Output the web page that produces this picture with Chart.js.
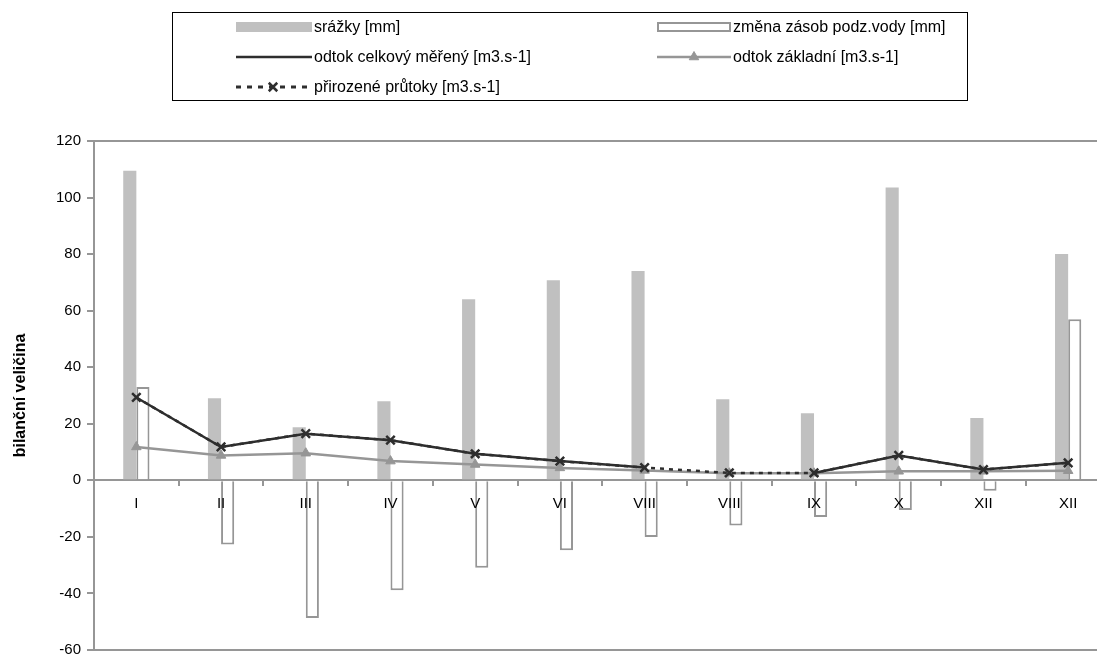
<!DOCTYPE html>
<html>
<head>
<meta charset="utf-8">
<script src="https://cdn.jsdelivr.net/npm/chart.js@4"></script>
<style>
  html, body { margin: 0; padding: 0; background: #fff; overflow: hidden; }
  #bilanceChart { display: block; }
</style>
</head>
<body>
<canvas id="bilanceChart" width="1119" height="665"></canvas>
<script>
// months as printed on the original axis (typos kept)
const months = ["I","II","III","IV","V","VI","VIII","VIII","IX","X","XII","XII"];

const srazky = [109.5, 29, 18.8, 28, 64, 70.8, 74, 28.7, 23.7, 103.6, 22, 80];
const zmenaZasob = [33, -22.7, -48.7, -38.9, -30.9, -24.7, -20, -16, -13, -10.5, -3.7, 57];
const odtokCelkovy = [29.3, 11.8, 16.5, 14.2, 9.4, 6.8, 4.5, null, 2.6, 8.8, 3.8, 6.2];
const odtokZakladni = [11.8, 8.8, 9.6, 6.8, 5.6, 4.4, 3.5, 2.5, 2.5, 3.2, 3.2, 3.4];
const prirozenePrutoky = [29.3, 11.8, 16.5, 14.2, 9.4, 6.8, 4.5, 2.6, 2.6, 8.8, 3.8, 6.2];

const yTicks = [-60, -40, -20, 0, 20, 40, 60, 80, 100, 120];

const GREY_BAR = "#C0C0C0";
const GREY_LINE = "#969696";
const DARK = "#2E2E2E";
const FONT = "'Liberation Sans', Arial, sans-serif";

// legend drawn in a box, two columns like the original
const boxLegend = {
  id: "boxLegend",
  afterDraw(chart){
    const c = chart.ctx;
    const H = Chart.helpers;
    c.save();
    c.strokeStyle = "#000";
    c.lineWidth = 1;
    c.strokeRect(172.5, 12.5, 795, 88);

    c.font = "16px " + FONT;
    c.textBaseline = "middle";

    const rows = [27, 57, 87];
    const col1 = [236, 312], col2 = [657, 731];

    // srážky
    c.fillStyle = GREY_BAR;
    c.fillRect(col1[0], rows[0] - 5, col1[1] - col1[0], 10);
    // změna zásob
    c.strokeStyle = GREY_LINE;
    c.lineWidth = 2;
    c.strokeRect(col2[0] + 1, rows[0] - 4, col2[1] - col2[0] - 2, 8);

    // odtok celkový
    c.strokeStyle = DARK;
    c.lineWidth = 2.5;
    c.beginPath(); c.moveTo(col1[0], rows[1]); c.lineTo(col1[1], rows[1]); c.stroke();

    // odtok základní
    c.strokeStyle = GREY_LINE;
    c.beginPath(); c.moveTo(col2[0], rows[1]); c.lineTo(col2[1], rows[1]); c.stroke();
    c.fillStyle = GREY_LINE;
    c.lineWidth = 1;
    H.drawPoint(c, {pointStyle: "triangle", radius: 5.5, rotation: 0, borderWidth: 1}, (col2[0] + col2[1]) / 2, rows[1]);

    // přirozené průtoky
    c.strokeStyle = DARK;
    c.lineWidth = 3;
    c.setLineDash([5, 6]);
    c.beginPath(); c.moveTo(col1[0], rows[2]); c.lineTo(col1[1], rows[2]); c.stroke();
    c.setLineDash([]);
    c.lineWidth = 2.5;
    H.drawPoint(c, {pointStyle: "crossRot", radius: 6, rotation: 0, borderWidth: 2.5}, 273, rows[2]);

    c.fillStyle = "#000";
    c.fillText("srážky [mm]", col1[1] + 2, rows[0] + 1);
    c.fillText("změna zásob podz.vody [mm]", col2[1] + 2, rows[0] + 1);
    c.fillText("odtok celkový měřený [m3.s-1]", col1[1] + 2, rows[1] + 1);
    c.fillText("odtok základní [m3.s-1]", col2[1] + 2, rows[1] + 1);
    c.fillText("přirozené průtoky [m3.s-1]", col1[1] + 2, rows[2] + 1);
    c.restore();
  }
};

// month labels go on top of the bars, as in the original
const monthLabels = {
  id: "monthLabels",
  afterDatasetsDraw(chart){
    const c = chart.ctx;
    const xs = chart.scales.x;
    const y0 = chart.scales.y.getPixelForValue(0);
    c.save();
    c.font = "15px " + FONT;
    c.fillStyle = "#000";
    c.textAlign = "center";
    c.textBaseline = "middle";
    months.forEach((m, i) => c.fillText(m, xs.getPixelForValue(i), y0 + 24));
    c.restore();
  }
};

const ctx = document.getElementById("bilanceChart");

const bilanceChart = new Chart(ctx,{
    type:"bar",
    data:{
        labels: months,
        datasets:[
            {
                type:"line",
                label:"přirozené průtoky [m3.s-1]",
                data: prirozenePrutoky,
                borderColor: DARK,
                borderWidth: 2.5,
                borderDash: [4, 5],
                pointStyle: "crossRot",
                pointRadius: 6,
                pointBorderWidth: 2.5,
                pointBorderColor: DARK,
                pointBackgroundColor: DARK,
                fill: false,
                tension: 0,
                order: 0
            },
            {
                type:"line",
                label:"odtok celkový měřený [m3.s-1]",
                data: odtokCelkovy,
                borderColor: DARK,
                borderWidth: 2.5,
                pointRadius: 0,
                spanGaps: false,
                fill: false,
                tension: 0,
                order: 1
            },
            {
                type:"line",
                label:"odtok základní [m3.s-1]",
                data: odtokZakladni,
                borderColor: GREY_LINE,
                borderWidth: 2.5,
                pointStyle: "triangle",
                pointRadius: 5.5,
                pointBorderWidth: 1,
                pointBorderColor: GREY_LINE,
                pointBackgroundColor: GREY_LINE,
                fill: false,
                tension: 0,
                order: 2
            },
            {
                label:"srážky [mm]",
                data: srazky,
                backgroundColor: GREY_BAR,
                borderWidth: 0,
                categoryPercentage: 0.31,
                barPercentage: 1,
                order: 3
            },
            {
                label:"změna zásob podz.vody [mm]",
                data: zmenaZasob,
                backgroundColor: "#fff",
                borderColor: GREY_LINE,
                borderWidth: 2,
                categoryPercentage: 0.31,
                barPercentage: 1,
                order: 3
            }
        ]
    },
    options:{
        responsive:false,
        animation:false,
        devicePixelRatio:1,
        layout:{ padding:{ top:141, bottom:0, left:0, right:2 } },
        plugins:{
            legend:{ display:false },
            tooltip:{ enabled:false }
        },
        scales:{
            x:{
                position:{ y:0 },
                grid:{
                    offset:true,
                    drawOnChartArea:false,
                    tickLength:5,
                    tickColor:GREY_LINE,
                    lineWidth:2
                },
                border:{ color:GREY_LINE, width:2 },
                ticks:{ display:false }
            },
            y:{
                min:-60,
                max:120,
                afterBuildTicks(scale){
                    scale.ticks = yTicks.map(v => ({ value:v }));
                },
                afterFit(scale){ scale.width = 94; },
                grid:{
                    color:(c) => (c.tick && (c.tick.value === -60 || c.tick.value === 120)) ? GREY_LINE : "rgba(0,0,0,0)",
                    lineWidth:2,
                    tickColor:GREY_LINE,
                    tickLength:7
                },
                border:{ color:GREY_LINE, width:2 },
                ticks:{ color:"#000", padding:6, font:{ family:FONT, size:15 } },
                title:{
                    display:true,
                    text:"bilanční veličina",
                    color:"#000",
                    padding:{ top:11, bottom:0 },
                    font:{ family:FONT, size:16, weight:"bold" }
                }
            }
        }
    },
    plugins:[boxLegend, monthLabels]
});
</script>
</body>
</html>
